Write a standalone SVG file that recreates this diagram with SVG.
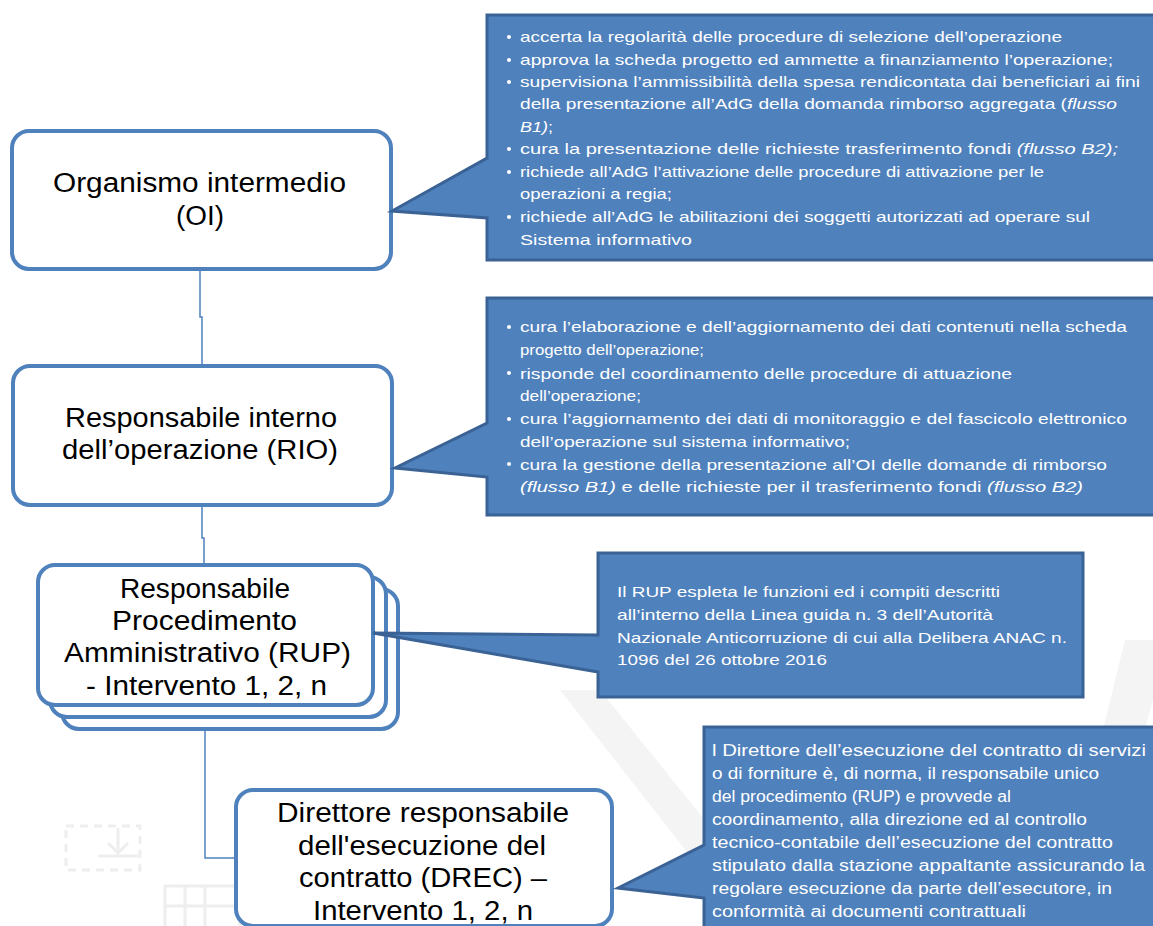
<svg xmlns="http://www.w3.org/2000/svg" width="1153" height="926" viewBox="0 0 1153 926">
<style>
.node{fill:#ffffff;stroke:#4f81bd;stroke-width:4}
.conn{fill:none;stroke:#4f81bd;stroke-width:1.5}
.call{fill:#4f81bd;stroke:#3a6294;stroke-width:3;stroke-linejoin:miter}
.nt{font-family:"Liberation Sans",Arial,sans-serif;font-size:27px;fill:#000000;text-anchor:start}
.ct{font-family:"Liberation Sans",Arial,sans-serif;font-size:15px;fill:#ffffff}
.cn{font-family:"Liberation Sans",Arial,sans-serif;font-size:16px;fill:#ffffff}
.bul{fill:#ffffff}
.wm{fill:#f4f4f4;stroke:none}
.wms{fill:none;stroke:#eeeeee;stroke-width:3}
</style>
<rect x="0" y="0" width="1153" height="926" fill="#ffffff"/>
<g id="watermark">
<polygon class="wm" points="560,690 600,690 790,926 745,926"/>
<polygon class="wm" points="1125,640 1153,640 1153,700 1090,926 1055,926"/>
<rect class="wms" x="66" y="826" width="74" height="44" stroke-dasharray="8 6"/>
<path class="wms" d="M118,828 V852 M108,843 L118,853 L128,843 M98,856 H138"/>
<path class="wms" d="M165,926 V886 H240 V926 M185,886 V926 M205,886 V926 M165,906 H240"/>
</g>
<g id="connectors">
<path class="conn" d="M200,270 V317 H202 V365"/>
<path class="conn" d="M202,505 V538 H204 V565"/>
<path class="conn" d="M205,705 V858 H236"/>
</g>
<g id="node-oi">
<rect class="node" x="12" y="131" width="379" height="138" rx="17"/>
<text class="nt" x="53" y="192" textLength="293" lengthAdjust="spacingAndGlyphs">Organismo intermedio</text>
<text class="nt" x="176" y="225" textLength="48" lengthAdjust="spacingAndGlyphs">(OI)</text>
</g>
<g id="node-rio">
<rect class="node" x="13" y="366" width="379" height="139" rx="17"/>
<text class="nt" x="65" y="427" textLength="272" lengthAdjust="spacingAndGlyphs">Responsabile interno</text>
<text class="nt" x="62" y="459" textLength="276" lengthAdjust="spacingAndGlyphs">dell’operazione (RIO)</text>
</g>
<g id="node-rup">
<rect class="node" x="62" y="589" width="336" height="140" rx="17"/>
<rect class="node" x="50" y="577" width="336" height="140" rx="17"/>
<rect class="node" x="38" y="565" width="335" height="140" rx="17"/>
<text class="nt" x="120" y="598" textLength="170" lengthAdjust="spacingAndGlyphs">Responsabile</text>
<text class="nt" x="112" y="630" textLength="185" lengthAdjust="spacingAndGlyphs">Procedimento</text>
<text class="nt" x="64" y="662" textLength="287" lengthAdjust="spacingAndGlyphs">Amministrativo (RUP)</text>
<text class="nt" x="86" y="695" textLength="241" lengthAdjust="spacingAndGlyphs">- Intervento 1, 2, n</text>
</g>
<g id="node-drec">
<rect class="node" x="236" y="790" width="376" height="136" rx="17"/>
<text class="nt" x="277" y="822" textLength="292" lengthAdjust="spacingAndGlyphs">Direttore responsabile</text>
<text class="nt" x="298" y="855" textLength="248" lengthAdjust="spacingAndGlyphs">dell'esecuzione del</text>
<text class="nt" x="299" y="887" textLength="248" lengthAdjust="spacingAndGlyphs">contratto  (DREC) –</text>
<text class="nt" x="313" y="920" textLength="220" lengthAdjust="spacingAndGlyphs">Intervento 1, 2, n</text>
</g>
<g id="callout-oi">
<path class="call" d="M487,15 H1165 V260 H487 V218 L392,211 L487,158 Z"/>
<circle class="bul" cx="509" cy="37" r="2"/>
<circle class="bul" cx="509" cy="60" r="2"/>
<circle class="bul" cx="509" cy="82" r="2"/>
<circle class="bul" cx="509" cy="149" r="2"/>
<circle class="bul" cx="509" cy="172" r="2"/>
<circle class="bul" cx="509" cy="217" r="2"/>
<text class="ct" x="520" y="42" textLength="542" lengthAdjust="spacingAndGlyphs">accerta la regolarità delle procedure  di selezione dell’operazione</text>
<text class="ct" x="520" y="65" textLength="593" lengthAdjust="spacingAndGlyphs">approva la scheda progetto  ed ammette a finanziamento l’operazione;</text>
<text class="ct" x="520" y="87" textLength="620" lengthAdjust="spacingAndGlyphs">supervisiona l’ammissibilità della spesa  rendicontata dai beneficiari ai fini</text>
<text class="ct" x="520" y="109" textLength="597" lengthAdjust="spacingAndGlyphs">della presentazione all’AdG della domanda rimborso  aggregata (<tspan font-style="italic">flusso</tspan></text>
<text class="ct" x="520" y="132" textLength="33" lengthAdjust="spacingAndGlyphs"><tspan font-style="italic">B1)</tspan>;</text>
<text class="ct" x="520" y="154" textLength="598" lengthAdjust="spacingAndGlyphs">cura la presentazione delle richieste trasferimento fondi <tspan font-style="italic">(flusso B2);</tspan></text>
<text class="ct" x="520" y="177" textLength="524" lengthAdjust="spacingAndGlyphs">richiede all’AdG l’attivazione delle procedure  di attivazione per le</text>
<text class="ct" x="520" y="199" textLength="152" lengthAdjust="spacingAndGlyphs">operazioni a regia;</text>
<text class="ct" x="520" y="222" textLength="570" lengthAdjust="spacingAndGlyphs">richiede all’AdG le abilitazioni dei soggetti autorizzati ad operare  sul</text>
<text class="ct" x="520" y="245" textLength="172" lengthAdjust="spacingAndGlyphs">Sistema informativo</text>
</g>
<g id="callout-rio">
<path class="call" d="M487,298 H1165 V515 H487 V477 L395,468 L487,423 Z"/>
<circle class="bul" cx="509" cy="327" r="2"/>
<circle class="bul" cx="509" cy="373" r="2"/>
<circle class="bul" cx="509" cy="419" r="2"/>
<circle class="bul" cx="509" cy="464" r="2"/>
<text class="ct" x="520" y="332" textLength="607" lengthAdjust="spacingAndGlyphs">cura l’elaborazione e dell’aggiornamento dei dati contenuti  nella scheda</text>
<text class="ct" x="520" y="355" textLength="184" lengthAdjust="spacingAndGlyphs">progetto dell’operazione;</text>
<text class="ct" x="520" y="379" textLength="492" lengthAdjust="spacingAndGlyphs">risponde del coordinamento  delle procedure  di attuazione</text>
<text class="ct" x="520" y="401" textLength="121" lengthAdjust="spacingAndGlyphs">dell’operazione;</text>
<text class="ct" x="520" y="424" textLength="607" lengthAdjust="spacingAndGlyphs">cura l’aggiornamento dei dati di monitoraggio e del fascicolo elettronico</text>
<text class="ct" x="520" y="447" textLength="330" lengthAdjust="spacingAndGlyphs">dell’operazione sul sistema informativo;</text>
<text class="ct" x="520" y="470" textLength="587" lengthAdjust="spacingAndGlyphs">cura la gestione della presentazione  all’OI delle domande di rimborso</text>
<text class="ct" x="520" y="492" textLength="563" lengthAdjust="spacingAndGlyphs"><tspan font-style="italic">(flusso B1)</tspan> e delle richieste per il trasferimento fondi <tspan font-style="italic">(flusso B2)</tspan></text>
</g>
<g id="callout-rup">
<path class="call" d="M598,553 H1083 V697 H598 V672 L373,633 L598,635 Z"/>
<text class="ct" x="617" y="597" textLength="383" lengthAdjust="spacingAndGlyphs">Il RUP espleta le funzioni ed i compiti descritti</text>
<text class="ct" x="617" y="620" textLength="376" lengthAdjust="spacingAndGlyphs">all’interno della Linea guida n. 3 dell’Autorità</text>
<text class="ct" x="617" y="643" textLength="450" lengthAdjust="spacingAndGlyphs">Nazionale Anticorruzione di cui alla Delibera  ANAC n.</text>
<text class="ct" x="617" y="665" textLength="210" lengthAdjust="spacingAndGlyphs">1096 del 26 ottobre  2016</text>
</g>
<g id="callout-drec">
<path class="call" d="M704,727 H1165 V945 H704 V898 L618,888 L704,845 Z"/>
<text class="cn" x="712" y="756" textLength="434" lengthAdjust="spacingAndGlyphs">l Direttore dell’esecuzione del contratto di servizi</text>
<text class="cn" x="712" y="779" textLength="387" lengthAdjust="spacingAndGlyphs">o di forniture è, di norma, il responsabile unico</text>
<text class="cn" x="712" y="802" textLength="299" lengthAdjust="spacingAndGlyphs">del procedimento (RUP) e provvede  al</text>
<text class="cn" x="712" y="825" textLength="375" lengthAdjust="spacingAndGlyphs">coordinamento, alla direzione ed al controllo</text>
<text class="cn" x="712" y="848" textLength="401" lengthAdjust="spacingAndGlyphs">tecnico-contabile dell’esecuzione del contratto</text>
<text class="cn" x="712" y="871" textLength="433" lengthAdjust="spacingAndGlyphs">stipulato dalla stazione appaltante assicurando la</text>
<text class="cn" x="712" y="894" textLength="400" lengthAdjust="spacingAndGlyphs">regolare esecuzione da parte dell’esecutore, in</text>
<text class="cn" x="712" y="917" textLength="314" lengthAdjust="spacingAndGlyphs">conformità ai documenti contrattuali</text>
</g>
</svg>
